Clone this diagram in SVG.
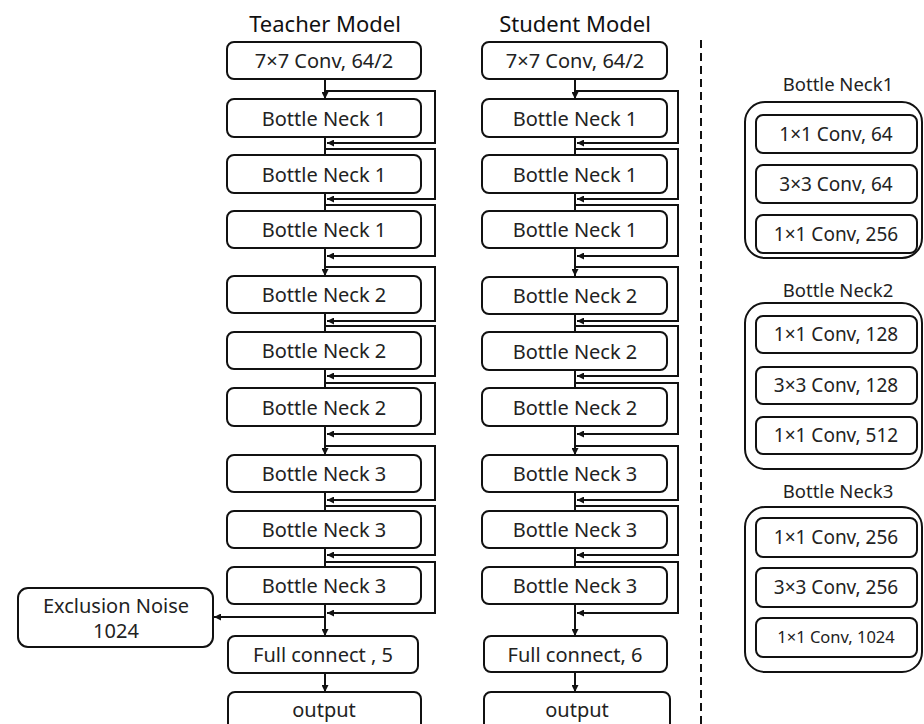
<svg xmlns="http://www.w3.org/2000/svg" width="924" height="724" viewBox="0 0 924 724">
  <defs>
    <style>
      .box { fill: #fff; stroke: #111; stroke-width: 2; }
      .outer { fill: #fff; stroke: #111; stroke-width: 2; }
      .lbl { font-family: "Noto Sans", "Open Sans", sans-serif; font-size: 20px; fill: #222; text-anchor: middle; }
      .ttl { font-family: "Noto Sans", "Open Sans", sans-serif; font-size: 22px; fill: #111; text-anchor: middle; }
      .sub { font-family: "Noto Sans", "Open Sans", sans-serif; font-size: 18.5px; fill: #222; text-anchor: middle; }
      .in { font-family: "Noto Sans", "Open Sans", sans-serif; font-size: 19px; fill: #222; text-anchor: middle; }
      .in-s { font-family: "Noto Sans", "Open Sans", sans-serif; font-size: 16.5px; fill: #222; text-anchor: middle; }
      .wire { fill: none; stroke: #111; stroke-width: 2; }
      .arr { fill: none; stroke: #111; stroke-width: 2; marker-end: url(#tip); }
      .divider { stroke: #111; stroke-width: 2; stroke-dasharray: 8 5; }
    </style>
    <marker id="tip" markerUnits="userSpaceOnUse" markerWidth="8" markerHeight="7" refX="7" refY="3.5" orient="auto">
      <path d="M0,0 L7,3.5 L0,7 z" fill="#111"/>
    </marker>
  </defs>

  <rect width="924" height="724" fill="#fff"/>

  <!-- column titles -->
  <text class="ttl" x="325" y="32">Teacher Model</text>
  <text class="ttl" x="575" y="32">Student Model</text>

  <!-- connectors -->
  <g id="connectors">
    <!-- teacher trunk -->
    <path class="arr" d="M325,79 V99"/>
    <path class="wire" d="M325,137 V155"/>
    <path class="wire" d="M325,193 V211"/>
    <path class="arr" d="M325,248 V276"/>
    <path class="wire" d="M325,313 V332"/>
    <path class="wire" d="M325,369 V388"/>
    <path class="arr" d="M325,426 V455"/>
    <path class="wire" d="M325,492 V511"/>
    <path class="wire" d="M325,548 V567"/>
    <path class="arr" d="M325,604 V636"/>
    <path class="arr" d="M325,673 V692"/>
    <path class="arr" d="M325,617 H214"/>
    <!-- teacher shortcuts -->
    <path class="arr" d="M325,91 H435 V143 H327"/>
    <path class="arr" d="M325,149 H435 V199 H327"/>
    <path class="arr" d="M325,205 H435 V256 H327"/>
    <path class="arr" d="M325,267 H435 V321 H327"/>
    <path class="arr" d="M325,326 H435 V376 H327"/>
    <path class="arr" d="M325,383 H435 V434 H327"/>
    <path class="arr" d="M325,446 H435 V500 H327"/>
    <path class="arr" d="M325,506 H435 V555 H327"/>
    <path class="arr" d="M325,562 H435 V613 H327"/>

    <!-- student trunk -->
    <path class="arr" d="M575,79 V99"/>
    <path class="wire" d="M575,137 V155"/>
    <path class="wire" d="M575,193 V211"/>
    <path class="arr" d="M575,248 V276"/>
    <path class="wire" d="M575,313 V332"/>
    <path class="wire" d="M575,369 V388"/>
    <path class="arr" d="M575,426 V455"/>
    <path class="wire" d="M575,492 V511"/>
    <path class="wire" d="M575,548 V567"/>
    <path class="arr" d="M575,604 V636"/>
    <path class="arr" d="M575,672 V692"/>
    <!-- student shortcuts -->
    <path class="arr" d="M575,91 H678 V143 H577"/>
    <path class="arr" d="M575,149 H678 V199 H577"/>
    <path class="arr" d="M575,205 H678 V256 H577"/>
    <path class="arr" d="M575,267 H678 V321 H577"/>
    <path class="arr" d="M575,326 H678 V376 H577"/>
    <path class="arr" d="M575,383 H678 V434 H577"/>
    <path class="arr" d="M575,446 H678 V500 H577"/>
    <path class="arr" d="M575,506 H678 V555 H577"/>
    <path class="arr" d="M575,562 H678 V613 H577"/>
  </g>

  <!-- teacher nodes -->
  <g id="t-conv"><rect class="box" x="227" y="42" width="194" height="37" rx="7"/><text class="lbl" x="324" y="68">7×7 Conv, 64/2</text></g>
  <g id="t-bn1a"><rect class="box" x="227" y="99" width="194" height="38" rx="7"/><text class="lbl" x="324" y="126">Bottle Neck 1</text></g>
  <g id="t-bn1b"><rect class="box" x="227" y="155" width="194" height="38" rx="7"/><text class="lbl" x="324" y="182">Bottle Neck 1</text></g>
  <g id="t-bn1c"><rect class="box" x="227" y="211" width="194" height="37" rx="7"/><text class="lbl" x="324" y="237">Bottle Neck 1</text></g>
  <g id="t-bn2a"><rect class="box" x="227" y="276" width="194" height="37" rx="7"/><text class="lbl" x="324" y="302">Bottle Neck 2</text></g>
  <g id="t-bn2b"><rect class="box" x="227" y="332" width="194" height="37" rx="7"/><text class="lbl" x="324" y="358">Bottle Neck 2</text></g>
  <g id="t-bn2c"><rect class="box" x="227" y="388" width="194" height="38" rx="7"/><text class="lbl" x="324" y="415">Bottle Neck 2</text></g>
  <g id="t-bn3a"><rect class="box" x="227" y="455" width="194" height="37" rx="7"/><text class="lbl" x="324" y="481">Bottle Neck 3</text></g>
  <g id="t-bn3b"><rect class="box" x="227" y="511" width="194" height="37" rx="7"/><text class="lbl" x="324" y="537">Bottle Neck 3</text></g>
  <g id="t-bn3c"><rect class="box" x="227" y="567" width="194" height="37" rx="7"/><text class="lbl" x="324" y="593">Bottle Neck 3</text></g>
  <g id="t-fc"><rect class="box" x="228" y="636" width="190" height="37" rx="7"/><text class="lbl" x="323" y="662">Full connect , 5</text></g>
  <g id="t-out"><rect class="box" x="228" y="692" width="193" height="48" rx="7"/><text class="lbl" x="324" y="717">output</text></g>
  <g id="noise"><rect class="box" x="18" y="588" width="195" height="59" rx="10"/><text class="lbl" x="116" y="613">Exclusion Noise</text><text class="lbl" x="116" y="638">1024</text></g>

  <!-- student nodes -->
  <g id="s-conv"><rect class="box" x="482" y="42" width="185" height="37" rx="7"/><text class="lbl" x="575" y="68">7×7 Conv, 64/2</text></g>
  <g id="s-bn1a"><rect class="box" x="482" y="99" width="185" height="38" rx="7"/><text class="lbl" x="575" y="126">Bottle Neck 1</text></g>
  <g id="s-bn1b"><rect class="box" x="482" y="155" width="185" height="38" rx="7"/><text class="lbl" x="575" y="182">Bottle Neck 1</text></g>
  <g id="s-bn1c"><rect class="box" x="482" y="211" width="185" height="37" rx="7"/><text class="lbl" x="575" y="237">Bottle Neck 1</text></g>
  <g id="s-bn2a"><rect class="box" x="482" y="277" width="185" height="37" rx="7"/><text class="lbl" x="575" y="303">Bottle Neck 2</text></g>
  <g id="s-bn2b"><rect class="box" x="482" y="332" width="185" height="38" rx="7"/><text class="lbl" x="575" y="359">Bottle Neck 2</text></g>
  <g id="s-bn2c"><rect class="box" x="482" y="388" width="185" height="38" rx="7"/><text class="lbl" x="575" y="415">Bottle Neck 2</text></g>
  <g id="s-bn3a"><rect class="box" x="482" y="455" width="185" height="37" rx="7"/><text class="lbl" x="575" y="481">Bottle Neck 3</text></g>
  <g id="s-bn3b"><rect class="box" x="482" y="511" width="185" height="37" rx="7"/><text class="lbl" x="575" y="537">Bottle Neck 3</text></g>
  <g id="s-bn3c"><rect class="box" x="482" y="567" width="185" height="37" rx="7"/><text class="lbl" x="575" y="593">Bottle Neck 3</text></g>
  <g id="s-fc"><rect class="box" x="484" y="636" width="183" height="36" rx="7"/><text class="lbl" x="575" y="662">Full connect, 6</text></g>
  <g id="s-out"><rect class="box" x="484" y="692" width="186" height="48" rx="7"/><text class="lbl" x="577" y="717">output</text></g>

  <!-- separator -->
  <line class="divider" x1="701" y1="40" x2="701" y2="724"/>

  <!-- bottleneck detail panels -->
  <g id="detail-bn1">
    <text class="sub" x="838" y="91">Bottle Neck1</text>
    <rect class="outer" x="745" y="102" width="177" height="156" rx="20"/>
    <rect class="box" x="756" y="115" width="161" height="38" rx="7"/><text class="in" x="836" y="141">1×1 Conv, 64</text>
    <rect class="box" x="756" y="165" width="161" height="38" rx="7"/><text class="in" x="836" y="191">3×3 Conv, 64</text>
    <rect class="box" x="756" y="215" width="161" height="38" rx="7"/><text class="in" x="836" y="241">1×1 Conv, 256</text>
  </g>
  <g id="detail-bn2">
    <text class="sub" x="838" y="297">Bottle Neck2</text>
    <rect class="outer" x="745" y="303" width="177" height="166" rx="20"/>
    <rect class="box" x="756" y="316" width="161" height="37" rx="7"/><text class="in" x="836" y="341">1×1 Conv, 128</text>
    <rect class="box" x="756" y="367" width="161" height="37" rx="7"/><text class="in" x="836" y="392">3×3 Conv, 128</text>
    <rect class="box" x="756" y="417" width="161" height="37" rx="7"/><text class="in" x="836" y="442">1×1 Conv, 512</text>
  </g>
  <g id="detail-bn3">
    <text class="sub" x="838" y="498">Bottle Neck3</text>
    <rect class="outer" x="745" y="507" width="177" height="165" rx="20"/>
    <rect class="box" x="756" y="518" width="161" height="39" rx="7"/><text class="in" x="836" y="544">1×1 Conv, 256</text>
    <rect class="box" x="756" y="568" width="161" height="39" rx="7"/><text class="in" x="836" y="594">3×3 Conv, 256</text>
    <rect class="box" x="756" y="618" width="161" height="39" rx="7"/><text class="in-s" x="836" y="643">1×1 Conv, 1024</text>
  </g>
</svg>
